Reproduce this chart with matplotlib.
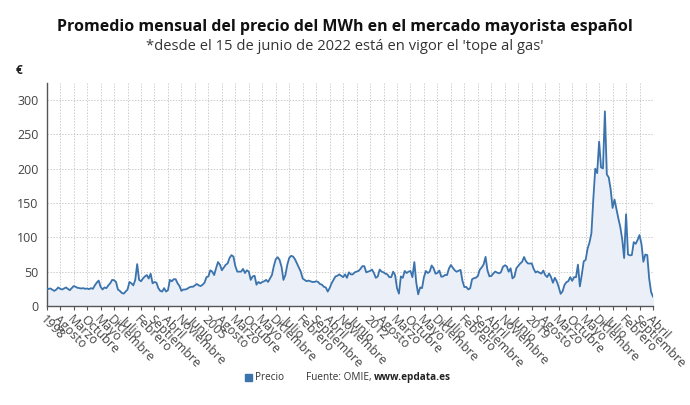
import matplotlib
matplotlib.use("Agg")
import matplotlib.pyplot as plt
import numpy as np
from matplotlib.patches import Rectangle

plt.rcParams['font.family'] = ['Open Sans', 'DejaVu Sans']

# Monthly average price (EUR/MWh), Jan 1998 - Apr 2024
p1998 = [24.3, 25.0, 25.5, 23.5, 22.0, 24.0, 27.0, 25.0, 24.0, 25.5, 27.0, 25.0]
p1999 = [23.0, 26.0, 29.0, 28.0, 26.5, 26.0, 25.5, 26.0, 25.0, 25.5, 24.5, 26.0]
p2000 = [25.0, 30.0, 34.0, 37.0, 28.0, 24.0, 27.0, 26.0, 30.0, 33.0, 38.0, 37.5]
p2001 = [35.0, 24.0, 22.0, 19.0, 18.0, 21.0, 24.0, 35.0, 33.0, 30.0, 38.0, 61.0]
p2002 = [38.0, 36.0, 40.0, 43.0, 45.0, 40.0, 47.0, 33.0, 35.0, 34.0, 26.0, 22.0]
p2003 = [21.0, 26.0, 21.0, 23.0, 38.0, 36.0, 39.0, 39.0, 33.0, 29.0, 22.0, 24.0]
p2004 = [24.0, 25.0, 27.0, 28.0, 28.0, 30.0, 32.0, 30.0, 29.0, 31.0, 34.0, 42.0]
p2005 = [43.0, 52.0, 50.0, 45.0, 55.0, 64.0, 60.0, 52.0, 56.0, 60.0, 62.0, 70.0]
p2006 = [74.0, 72.0, 58.0, 50.0, 50.0, 50.0, 54.0, 48.0, 52.0, 50.0, 38.0, 43.0]
p2007 = [44.0, 31.0, 35.0, 33.0, 35.0, 36.0, 38.0, 35.0, 40.0, 45.0, 58.0, 68.0]
p2008 = [71.0, 67.0, 57.0, 38.0, 45.0, 60.0, 70.0, 73.0, 72.0, 68.0, 62.0, 56.0]
p2009 = [50.0, 40.0, 38.0, 36.0, 37.0, 36.0, 35.0, 35.0, 36.0, 35.0, 32.0, 31.0]
p2010 = [28.0, 27.0, 21.0, 26.0, 33.0, 38.0, 43.0, 44.0, 46.0, 44.0, 42.0, 46.0]
p2011 = [41.0, 49.0, 46.0, 46.0, 49.0, 50.0, 51.0, 54.0, 58.0, 58.0, 49.0, 50.0]
p2012 = [51.0, 53.0, 48.0, 41.0, 43.0, 53.0, 50.0, 49.0, 47.0, 46.0, 42.0, 42.0]
p2013 = [50.0, 45.0, 26.0, 18.0, 43.0, 41.0, 51.0, 48.0, 50.0, 51.0, 42.0, 64.0]
p2014 = [34.0, 17.0, 27.0, 26.0, 42.0, 51.0, 48.0, 50.0, 59.0, 55.0, 47.0, 48.0]
p2015 = [51.6, 42.6, 43.1, 45.3, 45.1, 54.7, 59.6, 55.6, 51.9, 49.9, 51.2, 52.6]
p2016 = [36.5, 27.5, 27.8, 24.1, 25.8, 38.9, 40.5, 41.2, 43.6, 52.8, 56.1, 60.5]
p2017 = [71.5, 51.7, 43.2, 43.7, 47.1, 50.2, 48.6, 47.5, 49.2, 56.8, 59.2, 57.9]
p2018 = [49.9, 54.9, 40.2, 42.7, 54.9, 58.5, 61.9, 64.3, 71.3, 65.1, 61.9, 61.8]
p2019 = [62.0, 54.0, 48.8, 50.4, 48.4, 47.2, 51.5, 45.0, 42.1, 47.2, 42.2, 33.8]
p2020 = [41.1, 35.9, 27.7, 17.7, 21.3, 30.6, 34.6, 36.2, 42.0, 36.6, 41.9, 42.0]
p2021 = [60.2, 28.5, 45.4, 65.0, 67.1, 83.3, 92.4, 105.9, 156.1, 199.9, 193.4, 239.2]
p2022 = [201.7, 200.2, 283.3, 191.5, 187.1, 169.6, 142.7, 154.9, 141.1, 127.3, 115.0, 97.0]
p2023 = [69.8, 133.5, 75.0, 73.7, 74.2, 93.0, 90.5, 96.2, 103.3, 90.0, 64.4, 74.9]
p2024 = [74.2, 40.1, 20.3, 13.7]

years = list(range(1998, 2025))
series = [p1998, p1999, p2000, p2001, p2002, p2003, p2004, p2005, p2006, p2007,
          p2008, p2009, p2010, p2011, p2012, p2013, p2014, p2015, p2016, p2017,
          p2018, p2019, p2020, p2021, p2022, p2023, p2024]

meses = ['Enero', 'Febrero', 'Marzo', 'Abril', 'Mayo', 'Junio', 'Julio',
         'Agosto', 'Septiembre', 'Octubre', 'Noviembre', 'Diciembre']

values = np.concatenate([np.array(s, dtype=float) for s in series])
idx = np.arange(len(values))
labels = []
for y, s in zip(years, series):
    for m in range(len(s)):
        labels.append(str(y) if m == 0 else meses[m])

tick_pos = idx[::7]
tick_lab = [labels[i] for i in tick_pos]

fig = plt.figure(figsize=(6.9, 4.05), dpi=100)
ax = fig.add_axes([46.7/690, 1-306/405, (653-46.7)/690, (306-82.7)/405])

line_c = '#3b73ad'
ax.fill_between(idx, values, 0, color='#ebf0f8', zorder=1)
ax.plot(idx, values, color=line_c, lw=1.3, zorder=3)

ax.set_xlim(0, len(values)-1)
ax.set_ylim(0, 325)
ax.set_yticks([0, 50, 100, 150, 200, 250, 300])
ax.set_xticks(tick_pos)
ax.set_xticklabels(tick_lab, rotation=-45, ha='left', va='top', rotation_mode='anchor')
ax.tick_params(axis='x', labelsize=9, colors='#444444', length=3, pad=2, color='#555555')
ax.tick_params(axis='y', labelsize=9, colors='#444444', length=0, pad=6)
ax.grid(True, color='#cccccc', lw=0.7, ls=(0, (1.5, 1.5)), zorder=0)
ax.set_axisbelow(True)
for sp in ['top', 'right']:
    ax.spines[sp].set_visible(False)
ax.spines['left'].set_color('#555555')
ax.spines['bottom'].set_color('#555555')
ax.spines['left'].set_linewidth(1.0)
ax.spines['bottom'].set_linewidth(1.0)

fig.text(0.5, 1-27/405, 'Promedio mensual del precio del MWh en el mercado mayorista español',
         ha='center', va='center', fontsize=11.5, fontweight='bold', color='#111111')
fig.text(0.5, 1-47/405, "*desde el 15 de junio de 2022 está en vigor el 'tope al gas'",
         ha='center', va='center', fontsize=10.6, color='#333333')
fig.text(16/690, 1-70/405, '€', ha='left', va='center', fontsize=8.5, color='#222222', fontweight='bold')

fig.patches.append(Rectangle((245/690, 1-381/405), 7/690, 7/405, transform=fig.transFigure,
                             color='#3b73ad', figure=fig))
fig.text(255/690, 1-377.5/405, 'Precio', ha='left', va='center', fontsize=7.2, color='#333333')
t1 = fig.text(306/690, 1-377.5/405, 'Fuente: OMIE, ', ha='left', va='center', fontsize=7.2, color='#333333')
fig.canvas.draw()
bb = t1.get_window_extent(renderer=fig.canvas.get_renderer())
fig.text(bb.x1/690, 1-377.5/405, 'www.epdata.es', ha='left', va='center', fontsize=7.2,
         color='#222222', fontweight='bold')

fig.savefig('out.png', dpi=100, facecolor='white')
